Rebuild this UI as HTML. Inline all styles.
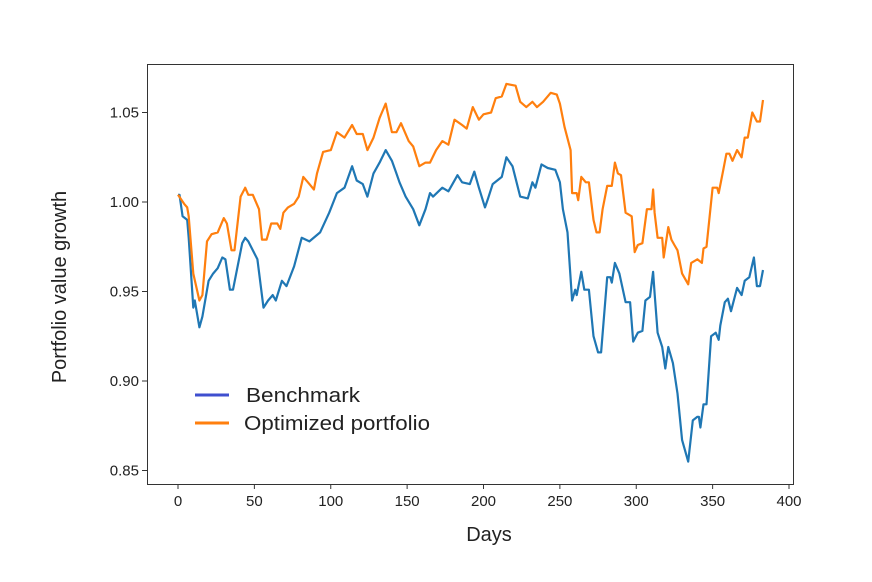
<!DOCTYPE html>
<html><head><meta charset="utf-8"><style>
body{margin:0;background:#fff;}
svg text{font-family:"Liberation Sans",Arial,sans-serif;fill:#222;}
</style></head><body>
<svg id="chart" width="872" height="577" xmlns="http://www.w3.org/2000/svg">
<rect x="0" y="0" width="872" height="577" fill="#fff"/>
<g id="ticks"></g>
<g id="series"></g>
<rect x="147.5" y="64.5" width="646" height="420" fill="none" stroke="#333" stroke-width="1"/>
<text x="489" y="541" font-size="20" text-anchor="middle">Days</text>
<text transform="translate(66,287) rotate(-90)" font-size="20" text-anchor="middle">Portfolio value growth</text>
<g>
<line x1="195" y1="395" x2="229" y2="395" stroke="#3f4fcf" stroke-width="3"/>
<text x="246" y="402" font-size="20" textLength="114" lengthAdjust="spacingAndGlyphs">Benchmark</text>
<line x1="195" y1="423" x2="229" y2="423" stroke="#ff7f0e" stroke-width="3"/>
<text x="244" y="430" font-size="20" textLength="186" lengthAdjust="spacingAndGlyphs">Optimized portfolio</text>
</g>
</svg>
<script>
const xTicks=[0,50,100,150,200,250,300,350,400];
const yTicks=[0.85,0.90,0.95,1.00,1.05];
const benchDays=[0,1,3,6,7,10,11,14,16,20,23,26,29,31,34,36,42,44,46,52,56,59,62,64,68,71,76,81,86,93,99,104,109,114,117,121,124,128,132,136,140,143,145,149,154,158,162,165,167,173,177,183,186,191,194,197,201,203,206,212,215,219,224,229,232,234,238,242,247,250,252,255,258,260,261,264,266,269,272,275,277,281,283,284,286,289,293,296,298,301,304,306,309,311,312,314,317,319,321,324,327,330,334,337,340,341,342,344,346,349,352,354,355,358,360,362,366,369,371,374,377,379,381,383];
const benchVals=[1.004,1.004,0.992,0.99,0.98,0.941,0.945,0.93,0.936,0.956,0.96,0.963,0.969,0.968,0.951,0.951,0.977,0.98,0.978,0.968,0.941,0.945,0.948,0.945,0.956,0.953,0.964,0.98,0.978,0.983,0.994,1.005,1.008,1.02,1.012,1.01,1.003,1.016,1.022,1.029,1.023,1.016,1.011,1.003,0.996,0.987,0.996,1.005,1.003,1.008,1.006,1.015,1.011,1.01,1.017,1.008,0.997,1.002,1.01,1.014,1.025,1.02,1.003,1.002,1.011,1.008,1.021,1.019,1.018,1.011,0.996,0.983,0.945,0.951,0.948,0.961,0.951,0.951,0.925,0.916,0.916,0.958,0.958,0.955,0.966,0.96,0.944,0.944,0.922,0.927,0.928,0.945,0.947,0.961,0.949,0.927,0.919,0.907,0.919,0.91,0.893,0.867,0.855,0.878,0.88,0.88,0.874,0.887,0.887,0.925,0.927,0.923,0.931,0.944,0.946,0.939,0.952,0.948,0.956,0.958,0.969,0.953,0.953,0.962];
const optDays=[0,4,6,7,10,14,16,19,22,26,30,32,35,37,41,44,46,49,53,55,58,61,65,67,69,72,76,79,82,86,89,91,95,100,104,109,114,117,121,124,128,132,136,140,143,146,151,154,158,162,165,169,173,177,181,186,189,193,197,200,205,208,212,215,221,224,228,232,235,239,244,248,250,253,257,258,261,262,264,267,269,272,274,276,278,281,284,286,288,290,293,297,299,301,304,307,310,311,312,314,317,318,321,323,325,327,330,334,336,340,343,344,346,350,353,354,357,359,361,363,366,369,371,373,376,379,381,383];
const optVals=[1.004,0.999,0.997,0.992,0.96,0.945,0.948,0.978,0.982,0.983,0.991,0.988,0.973,0.973,1.003,1.008,1.004,1.004,0.996,0.979,0.979,0.988,0.988,0.985,0.994,0.997,0.999,1.003,1.014,1.01,1.007,1.016,1.028,1.029,1.039,1.036,1.043,1.038,1.038,1.029,1.036,1.047,1.055,1.039,1.039,1.044,1.034,1.031,1.02,1.022,1.022,1.029,1.034,1.032,1.046,1.043,1.041,1.053,1.046,1.049,1.05,1.058,1.059,1.066,1.065,1.056,1.053,1.056,1.053,1.056,1.061,1.06,1.055,1.042,1.029,1.005,1.005,1.001,1.014,1.011,1.011,0.99,0.983,0.983,0.996,1.009,1.009,1.022,1.016,1.015,0.994,0.992,0.972,0.976,0.977,0.996,0.996,1.007,0.994,0.98,0.98,0.969,0.986,0.979,0.976,0.973,0.96,0.954,0.966,0.968,0.966,0.974,0.975,1.008,1.008,1.005,1.018,1.027,1.027,1.023,1.029,1.025,1.036,1.036,1.05,1.045,1.045,1.057];
const NS='http://www.w3.org/2000/svg';
function xS(d){return 178+d*1.5275;}
function yS(v){return 202-(v-1)*1790;}
const tg=document.getElementById('ticks');
xTicks.forEach(t=>{
  const l=document.createElementNS(NS,'line');
  l.setAttribute('x1',xS(t));l.setAttribute('x2',xS(t));l.setAttribute('y1',484);l.setAttribute('y2',489);l.setAttribute('stroke','#333');
  
  
  tg.appendChild(l);
  const tx=document.createElementNS(NS,'text');
  tx.setAttribute('x',xS(t));tx.setAttribute('y',506);tx.setAttribute('font-size','15');tx.setAttribute('text-anchor','middle');
  tx.textContent=t;
  
  
  tg.appendChild(tx);
});
yTicks.forEach(t=>{
  const l=document.createElementNS(NS,'line');
  l.setAttribute('x1',142);l.setAttribute('x2',147);l.setAttribute('y1',yS(t));l.setAttribute('y2',yS(t));l.setAttribute('stroke','#333');
  
  
  tg.appendChild(l);
  const tx=document.createElementNS(NS,'text');
  tx.setAttribute('x',139);tx.setAttribute('y',yS(t)+5);tx.setAttribute('font-size','15');tx.setAttribute('text-anchor','end');
  tx.textContent=t.toFixed(2);
  
  
  tg.appendChild(tx);
});
const sg=document.getElementById('series');
function draw(days,vals,color,name){
  const p=document.createElementNS(NS,'polyline');
  p.setAttribute('points',days.map((d,i)=>xS(d).toFixed(1)+','+yS(vals[i]).toFixed(1)).join(' '));
  p.setAttribute('fill','none');p.setAttribute('stroke',color);p.setAttribute('stroke-width','2.2');p.setAttribute('stroke-linejoin','round');
  
  
  sg.appendChild(p);
}
draw(benchDays,benchVals,'#1f77b4','benchmark-line');
draw(optDays,optVals,'#ff7f0e','optimized-portfolio-line');
</script>
</body></html>
